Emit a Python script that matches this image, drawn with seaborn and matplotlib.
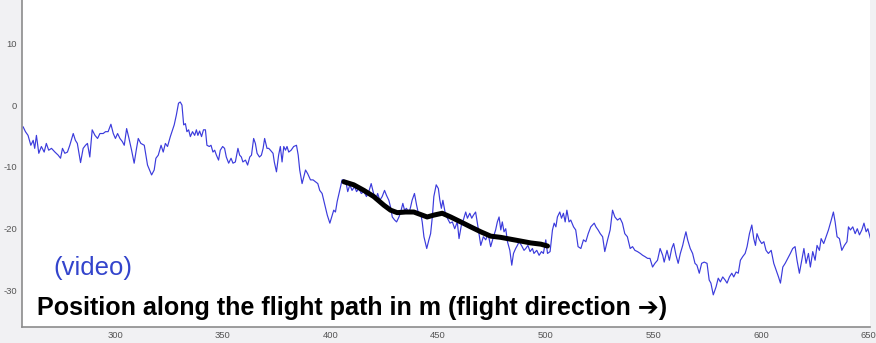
import matplotlib
matplotlib.use("Agg")
import matplotlib.pyplot as plt
import seaborn as sns
import pandas as pd

# ---------------- data ----------------
x_video = [257.2, 258.3, 259.5, 260.8, 261.9, 262.6, 263.4, 264.5, 265.7, 267.0, 268.0, 269.1, 270.4, 272.0,
           273.5, 274.6, 275.5, 276.6, 277.8, 278.9, 280.5, 281.5, 282.4, 283.9, 285.1, 286.2, 287.1, 288.2,
           289.3, 290.6, 291.8, 292.9, 294.4, 295.5, 296.7, 298.0, 299.1, 300.1, 301.1, 302.2, 303.3, 304.2,
           305.3, 306.4, 307.6, 308.8, 309.9, 310.7, 311.9, 313.5, 315.0, 316.9, 318.1, 318.9, 320.0, 321.3,
           322.3, 323.3, 324.3, 325.6, 326.8, 327.4, 328.4, 329.4, 330.2, 331.0, 331.8, 332.6, 333.3, 334.1,
           334.9, 335.9, 336.9, 337.7, 338.4, 339.2, 340.1, 341.0, 341.9, 342.6, 343.7, 344.5, 345.4, 346.2,
           347.0, 348.0, 348.8, 349.9, 350.8, 351.6, 352.7, 353.8, 354.7, 355.8, 357.0, 357.8, 358.6, 359.3,
           360.5, 361.5, 362.5, 363.3, 364.3, 365.1, 365.9, 367.0, 367.9, 368.7, 369.4, 370.5, 371.3, 372.1,
           373.3, 373.9, 374.9, 375.9, 376.7, 377.5, 378.3, 379.1, 379.8, 380.6, 381.7, 382.9, 384.2, 385.0,
           385.7, 386.8, 388.4, 389.4, 390.7, 391.9, 393.0, 394.1, 395.0, 396.1, 397.2, 398.5, 399.7, 400.8,
           401.5, 402.3, 403.1, 404.3, 405.4, 406.2, 407.4, 408.0, 409.0, 410.0, 411.2, 412.1, 413.2, 414.3,
           415.5, 416.7, 417.8, 418.9, 419.8, 420.9, 421.9, 422.9, 424.0, 425.1, 426.0, 427.1, 427.9, 428.7,
           429.8, 430.7, 431.8, 432.6, 433.6, 434.4, 435.3, 436.4, 437.2, 437.9, 439.0, 440.0, 441.0, 441.9,
           442.6, 443.4, 444.7, 445.7, 446.5, 447.3, 448.0, 449.1, 450.1, 450.8, 451.5, 452.2, 453.2, 454.3,
           455.5, 456.6, 457.7, 458.9, 459.7, 460.8, 461.7, 462.8, 463.6, 464.7, 465.6, 466.4, 467.4, 468.5,
           469.8, 471.0, 472.1, 473.2, 474.4, 475.7, 476.7, 477.5, 478.3, 479.1, 479.8, 480.6, 481.4, 482.2,
           483.3, 484.2, 485.0, 486.0, 486.8, 487.6, 488.7, 489.9, 490.7, 491.7, 492.7, 493.8, 494.5, 495.8,
           496.9, 498.0, 498.9, 500.0, 500.8, 502.0, 503.1, 503.9, 504.7, 505.4, 506.5, 507.3, 508.2, 509.0,
           509.8, 510.8, 511.6, 512.9, 513.9, 515.0, 516.3, 517.5, 518.6, 519.7, 520.9, 522.5, 523.3, 524.3,
           525.3, 526.4, 527.4, 528.7, 529.9, 531.0, 532.1, 533.3, 534.5, 535.6, 536.7, 537.9, 539.2, 540.3,
           541.4, 542.6, 543.9, 545.0, 546.0, 547.3, 548.4, 549.6, 550.7, 551.9, 553.1, 554.3, 555.0, 556.3,
           557.4, 558.5, 559.4, 560.5, 561.5, 562.5, 563.6, 564.3, 565.1, 565.9, 567.1, 568.2, 569.3, 570.2,
           571.3, 572.4, 573.6, 574.9, 575.9, 576.7, 577.8, 579.1, 580.1, 581.1, 582.2, 583.3, 584.2, 585.3,
           586.4, 587.3, 588.4, 589.4, 590.4, 591.5, 592.6, 593.5, 594.6, 595.7, 596.6, 597.4, 598.1, 599.2,
           600.3, 601.3, 602.3, 603.4, 604.7, 605.9, 607.0, 608.1, 609.0, 610.1, 611.2, 612.4, 613.6, 614.7,
           615.8, 616.7, 617.8, 618.9, 619.9, 620.9, 622.0, 622.9, 624.0, 625.1, 626.0, 627.1, 627.9, 629.1,
           630.2, 631.3, 632.6, 633.6, 634.4, 635.3, 636.4, 637.5, 638.7, 639.9, 640.6, 641.5, 642.6, 643.7,
           644.7, 645.7, 646.8, 647.8, 648.8, 649.6, 650.8]
y_video = [-3.5, -4.3, -4.9, -6.5, -5.7, -7.0, -4.9, -7.8, -6.7, -7.6, -6.2, -7.3, -7.0, -7.6,
           -8.1, -8.6, -7.0, -7.8, -7.6, -6.5, -4.6, -5.7, -6.2, -9.3, -7.0, -6.5, -6.2, -8.4,
           -4.0, -4.9, -5.4, -4.6, -4.6, -4.3, -4.3, -3.1, -4.6, -5.4, -4.6, -5.4, -5.9, -6.5,
           -3.8, -5.4, -7.3, -9.4, -7.0, -5.4, -6.2, -6.5, -9.7, -11.3, -10.5, -8.6, -8.1, -6.5,
           -7.6, -6.2, -6.7, -5.1, -3.8, -3.2, -1.6, 0.3, 0.5, 0.0, -3.2, -3.0, -4.3, -4.0,
           -5.1, -4.3, -4.9, -4.0, -4.9, -4.2, -5.1, -4.0, -4.0, -6.5, -6.7, -6.5, -7.6, -7.3,
           -8.1, -8.9, -7.3, -6.7, -7.0, -8.4, -9.4, -8.6, -9.4, -9.2, -7.0, -8.1, -8.4, -9.2,
           -8.9, -9.7, -8.4, -8.1, -5.4, -6.2, -7.8, -8.4, -8.1, -7.0, -5.4, -7.0, -7.0, -7.3,
           -7.8, -9.2, -10.8, -8.1, -6.7, -9.2, -6.7, -7.3, -6.7, -7.6, -7.3, -6.7, -6.5, -8.1,
           -10.5, -12.7, -10.5, -11.1, -12.1, -12.1, -12.4, -12.7, -13.8, -14.3, -15.9, -17.8, -19.1, -17.8,
           -17.0, -17.3, -15.6, -13.8, -12.1, -12.1, -12.9, -14.0, -12.9, -13.8, -13.2, -14.0, -13.5, -14.3,
           -14.0, -14.8, -14.0, -12.7, -14.0, -15.4, -14.3, -15.4, -14.8, -13.8, -14.6, -15.4, -16.5, -18.1,
           -18.6, -18.9, -18.1, -17.3, -15.9, -17.0, -16.7, -17.5, -16.5, -15.4, -14.3, -16.2, -17.8, -17.5,
           -18.9, -21.3, -23.2, -21.8, -20.8, -18.1, -14.8, -12.9, -13.5, -15.4, -16.7, -15.4, -17.3, -18.3,
           -19.1, -18.9, -20.0, -18.9, -21.6, -19.4, -18.6, -17.3, -18.3, -17.5, -18.3, -17.8, -17.3, -19.7,
           -22.7, -21.3, -21.8, -20.8, -22.9, -21.3, -20.2, -18.9, -18.1, -20.2, -18.9, -20.5, -20.0, -22.1,
           -23.5, -25.9, -24.0, -23.2, -22.7, -22.1, -22.7, -23.5, -23.2, -22.7, -23.7, -23.2, -24.0, -23.5,
           -24.3, -23.7, -24.0, -21.8, -24.0, -23.7, -20.2, -19.1, -19.7, -18.1, -17.3, -18.3, -17.5, -18.9,
           -17.0, -18.9, -18.6, -19.7, -20.2, -22.9, -23.2, -21.8, -22.1, -20.8, -19.7, -19.1, -19.7, -20.2,
           -20.8, -21.3, -23.7, -21.8, -20.2, -17.0, -18.1, -18.6, -18.3, -19.1, -20.8, -21.3, -23.2, -22.9,
           -23.5, -23.7, -24.0, -24.3, -24.5, -24.8, -24.8, -26.2, -25.6, -25.1, -23.2, -24.3, -25.4, -23.5,
           -25.1, -23.2, -22.4, -24.3, -25.6, -24.0, -22.7, -21.6, -20.5, -21.8, -23.2, -24.0, -25.6, -25.9,
           -27.2, -25.6, -25.4, -25.6, -28.3, -28.8, -30.7, -29.4, -28.0, -28.6, -27.8, -28.3, -28.8, -27.8,
           -27.2, -27.8, -27.0, -27.2, -25.1, -24.5, -24.0, -22.9, -20.8, -19.4, -21.6, -22.7, -20.8, -21.8,
           -22.4, -22.1, -23.5, -24.0, -23.5, -25.6, -26.7, -27.8, -28.8, -26.2, -25.6, -24.8, -24.0, -23.2,
           -22.9, -25.1, -27.2, -25.1, -23.2, -25.6, -24.0, -26.2, -23.7, -25.1, -22.7, -23.5, -21.6, -22.4,
           -21.3, -20.2, -18.6, -17.3, -18.9, -21.3, -21.6, -23.5, -22.7, -22.1, -19.7, -20.2, -19.7, -20.8,
           -20.0, -21.0, -20.2, -19.1, -20.5, -20.0, -21.6]

x_flight = [406.2, 410.8, 415.5, 420.1, 424.8, 427.9, 431.0, 434.9, 438.7, 442.6, 444.9, 448.0,
            451.9, 455.8, 460.5, 465.1, 469.8, 474.4, 479.1, 483.7, 488.4, 493.0, 497.7, 500.8]
y_flight = [-12.4, -12.9, -13.8, -14.8, -16.2, -17.0, -17.4, -17.3, -17.3, -17.8, -18.1, -17.8,
            -17.5, -18.1, -18.9, -19.7, -20.5, -21.2, -21.4, -21.7, -22.0, -22.3, -22.5, -22.8]

x_ticks = [300, 350, 400, 450, 500, 550, 600, 650]
x_tick_labels = ["300", "350", "400", "450", "500", "550", "600", "650"]
y_ticks = [-30, -20, -10, 0, 10]
y_tick_labels = ["-30", "-20", "-10", "0", "10"]

label_video = "(video)"
label_axis = "Position along the flight path in m (flight direction \u2794)"

# ---------------- plot ----------------
sns.set_style("white")
plt.rcParams["font.family"] = ["Liberation Sans", "DejaVu Sans"]
plt.rcParams["axes.unicode_minus"] = False

W, H = 876, 343
fig = plt.figure(figsize=(W / 100, H / 100), dpi=100)
fig.patch.set_facecolor("#f1f1f3")
ax = fig.add_axes([22 / W, 16 / H, (870 - 22) / W, (H - 16) / H])
ax.set_facecolor("white")

df_video = pd.DataFrame({"x": x_video, "y": y_video})
df_flight = pd.DataFrame({"x": x_flight, "y": y_flight})

sns.lineplot(data=df_video, x="x", y="y", ax=ax, color="#3b3bdc", linewidth=0.85,
             estimator=None, sort=False)
sns.lineplot(data=df_flight, x="x", y="y", ax=ax, color="black", linewidth=3.6,
             estimator=None, sort=False, solid_capstyle="round")

ax.set_xlim(256.7, 650.6)
ax.set_ylim(-35.9, 17.0)
ax.set_xticks(x_ticks)
ax.set_xticklabels(x_tick_labels)
ax.set_yticks(y_ticks)
ax.set_yticklabels(y_tick_labels)
ax.set_xlabel("")
ax.set_ylabel("")

for side in ["top", "right"]:
    ax.spines[side].set_visible(False)
for side in ["left", "bottom"]:
    ax.spines[side].set_color("#8c8c8c")
    ax.spines[side].set_linewidth(1.2)

ax.tick_params(axis="both", direction="in", length=6, width=0.9, color="#8c8c8c",
               labelsize=6.8, labelcolor="#555555")
ax.tick_params(axis="y", pad=3.5)
ax.tick_params(axis="x", pad=3.0)

fig.text(53 / W, 1 - 275 / H, label_video, color="#3344cc", fontsize=18.5,
         va="baseline", ha="left")
fig.text(37 / W, 1 - 315 / H, label_axis, color="black", fontsize=18.1,
         fontweight="bold", va="baseline", ha="left")

fig.savefig("out.png", dpi=100, facecolor=fig.get_facecolor())
